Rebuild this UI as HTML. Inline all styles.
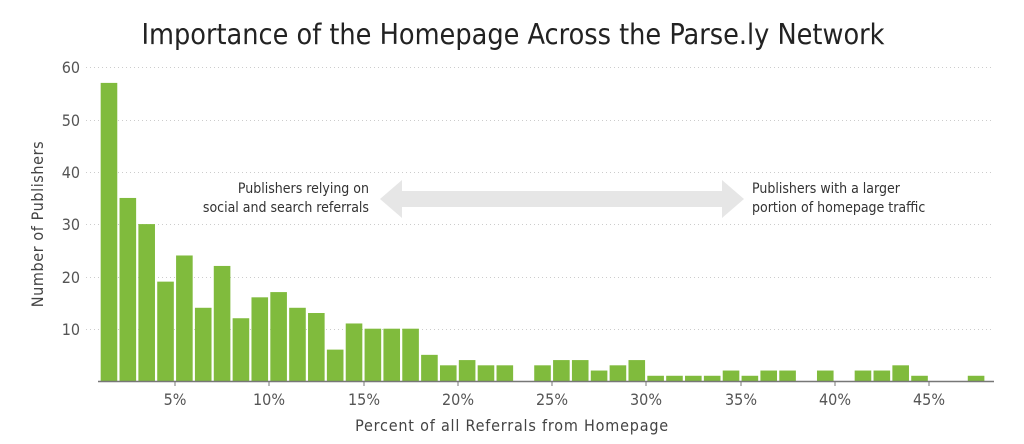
<!DOCTYPE html>
<html><head><style>body{margin:0;background:#fff}svg{display:block}text{font-family:"DejaVu Sans Condensed","Liberation Sans",sans-serif}</style></head>
<body>
<svg width="1024" height="444" xmlns="http://www.w3.org/2000/svg">
<text x="513" y="44" text-anchor="middle" font-size="28.5" fill="#222">Importance of the Homepage Across the Parse.ly Network</text>
<g stroke="#ccc" stroke-dasharray="1,3" stroke-width="1">
<line x1="86" x2="994" y1="67.5" y2="67.5"/><line x1="86" x2="994" y1="120.5" y2="120.5"/><line x1="86" x2="994" y1="172.5" y2="172.5"/><line x1="86" x2="994" y1="224.5" y2="224.5"/><line x1="86" x2="994" y1="277.5" y2="277.5"/><line x1="86" x2="994" y1="329.5" y2="329.5"/>
</g>
<g font-size="16" fill="#555" text-anchor="end">
<text x="80" y="73">60</text><text x="80" y="126">50</text><text x="80" y="178">40</text><text x="80" y="230">30</text><text x="80" y="283">20</text><text x="80" y="335">10</text>
</g>
<text transform="translate(43,224) rotate(-90)" text-anchor="middle" font-size="16" fill="#444" letter-spacing="0.6">Number of Publishers</text>
<g id="bars" fill="#80bb3d"></g>
<line x1="98" x2="994" y1="381.5" y2="381.5" stroke="#777" stroke-width="1.5"/>
<g stroke="#777"><line x1="175" x2="175" y1="381" y2="386"/><line x1="269" x2="269" y1="381" y2="386"/><line x1="364" x2="364" y1="381" y2="386"/><line x1="458" x2="458" y1="381" y2="386"/><line x1="552" x2="552" y1="381" y2="386"/><line x1="646" x2="646" y1="381" y2="386"/><line x1="741" x2="741" y1="381" y2="386"/><line x1="835" x2="835" y1="381" y2="386"/><line x1="929" x2="929" y1="381" y2="386"/></g>
<g font-size="16" fill="#555" text-anchor="middle">
<text x="175" y="405">5%</text><text x="269" y="405">10%</text><text x="364" y="405">15%</text><text x="458" y="405">20%</text><text x="552" y="405">25%</text><text x="646" y="405">30%</text><text x="741" y="405">35%</text><text x="835" y="405">40%</text><text x="929" y="405">45%</text>
</g>
<text x="512" y="431" text-anchor="middle" font-size="16" fill="#444" letter-spacing="0.8">Percent of all Referrals from Homepage</text>
<polygon points="380,199 402,180 402,191 722,191 722,180 744,199 722,218 722,207 402,207 402,218" fill="#e6e6e6"/>
<g font-size="14" fill="#333">
<text x="369" y="193" text-anchor="end">Publishers relying on</text>
<text x="369" y="212" text-anchor="end">social and search referrals</text>
<text x="752" y="193">Publishers with a larger</text>
<text x="752" y="212">portion of homepage traffic</text>
</g>
</svg>
<script>
var v=[57,35,30,19,24,14,22,12,16,17,14,13,6,11,10,10,10,5,3,4,3,3,0,3,4,4,2,3,4,1,1,1,1,2,1,2,2,0,2,0,2,2,3,1,0,0,1];
var g=document.getElementById('bars'),s='';
for(var i=0;i<v.length;i++){var c=80.7+18.85*(i+1.5);var h=v[i]*5.23;if(h>0)s+='<rect x="'+(c-8.3)+'" y="'+(381-h)+'" width="16.6" height="'+h+'"/>';}
g.innerHTML=s;
</script>
</body></html>
